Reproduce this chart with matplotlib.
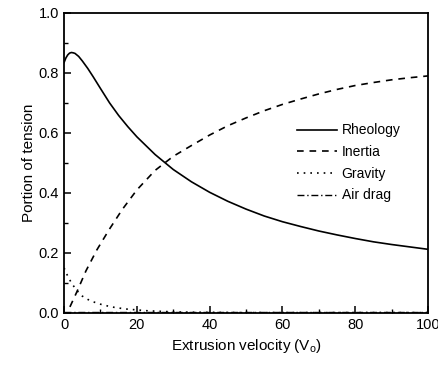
import matplotlib
matplotlib.use('Agg')
import matplotlib.pyplot as plt
from matplotlib.ticker import MultipleLocator, FormatStrFormatter

plt.rcParams['font.family'] = ['Liberation Sans', 'DejaVu Sans']

# values
rheo_x = [0, 0.5, 1, 1.5, 2, 2.5, 3, 4, 5, 6.5, 8, 10, 12.5, 15, 17.5, 20, 25, 30,
          35, 40, 45, 50, 55, 60, 65, 70, 75, 80, 85, 90, 95, 100]
rheo_y = [0.835, 0.85, 0.86, 0.866, 0.868, 0.867, 0.865, 0.855, 0.84, 0.815, 0.787, 0.748,
          0.70, 0.658, 0.621, 0.587, 0.528, 0.478, 0.437, 0.402, 0.372, 0.346, 0.323,
          0.304, 0.288, 0.273, 0.26, 0.248, 0.237, 0.228, 0.22, 0.212]

inert_x = [1.6, 3.5, 6, 9, 12.5, 16, 20, 25, 30, 35, 40, 45, 50, 55, 60, 65, 70, 75,
           80, 85, 90, 95, 100]
inert_y = [0.02, 0.07, 0.14, 0.21, 0.28, 0.345, 0.41, 0.475, 0.522, 0.558, 0.593, 0.624,
           0.65, 0.674, 0.695, 0.713, 0.73, 0.745, 0.758, 0.768, 0.777, 0.784, 0.79]

grav_x = [0, 0.5, 1, 2, 3, 4, 5, 6.5, 8, 10, 12, 14, 17, 20, 23, 27, 31, 36, 42, 50,
          60, 70, 80, 90, 100]
grav_y = [0.15, 0.135, 0.123, 0.10, 0.083, 0.068, 0.056, 0.045, 0.037, 0.029, 0.023,
          0.018, 0.013, 0.010, 0.007, 0.005, 0.003, 0.002, 0.0015, 0.001, 0.001, 0.001,
          0.001, 0.001, 0.001]

air_x = [0, 20, 40, 60, 80, 100]
air_y = [0.003, 0.003, 0.003, 0.003, 0.003, 0.003]

fig = plt.figure(figsize=(4.39, 3.69), dpi=100)
ax = fig.add_axes([0.146, 0.152, 0.829, 0.813])

ax.plot(rheo_x, rheo_y, color='black', lw=1.2, ls='-', label='Rheology')
ax.plot(inert_x, inert_y, color='black', lw=1.2, ls=(0, (4, 3.5)), label='Inertia')
ax.plot(grav_x, grav_y, color='black', lw=1.2, ls=(0, (1, 3)), label='Gravity')
ax.plot(air_x, air_y, color='black', lw=1.0, ls=(0, (5, 2, 1, 2)), label='Air drag')

ax.set_xlim(0, 100)
ax.set_ylim(0, 1.0)
ax.xaxis.set_major_locator(MultipleLocator(20))
ax.xaxis.set_minor_locator(MultipleLocator(10))
ax.yaxis.set_major_locator(MultipleLocator(0.2))
ax.yaxis.set_minor_locator(MultipleLocator(0.1))
ax.yaxis.set_major_formatter(FormatStrFormatter('%.1f'))
ax.tick_params(which='both', direction='in', top=False, right=False, labelsize=10.5)
ax.tick_params(which='major', length=5, width=1.1)
ax.tick_params(which='minor', length=3, width=1.0)
for s in ax.spines.values():
    s.set_linewidth(1.3)

ax.set_xlabel('Extrusion velocity (V$_\\mathregular{o}$)', fontsize=11, labelpad=4)
ax.set_ylabel('Portion of tension', fontsize=11, labelpad=2)

ax.legend(loc='upper left', bbox_to_anchor=(0.625, 0.65), frameon=False, fontsize=10,
          handlelength=2.9, handletextpad=0.3, labelspacing=0.55, borderaxespad=0)

fig.savefig('out.png', dpi=100)
